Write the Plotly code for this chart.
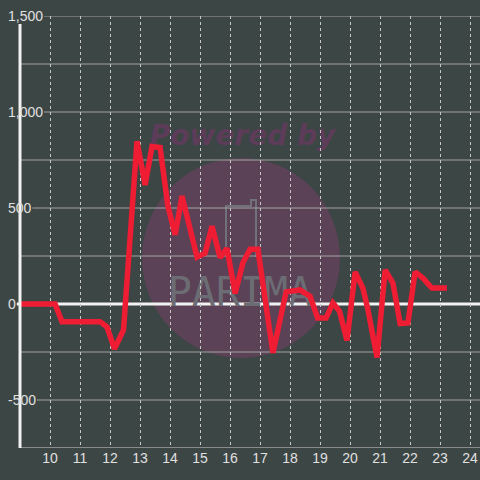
import plotly.graph_objects as go

# ---- data ----
hours = [9.0, 10.17, 10.4, 11.67, 11.9, 12.15, 12.45, 12.9, 13.17, 13.4, 13.67, 13.93,
         14.17, 14.4, 14.9, 15.17, 15.4, 15.67, 15.9, 16.17, 16.43, 16.67, 16.93,
         17.43, 17.87, 18.33, 18.67, 18.92, 19.2, 19.43, 19.65, 19.9, 20.17, 20.43,
         20.6, 20.9, 21.17, 21.43, 21.67, 21.93, 22.17, 22.43, 22.73, 23.23]
values = [0, 0, -92, -92, -120, -234, -135, 848, 620, 820, 815, 510,
          360, 562, 245, 265, 405, 242, 290, 55, 215, 285, 285,
          -255, 63, 73, 40, -73, -73, 5, -38, -190, 167, 83,
          -31, -278, 177, 109, -102, -99, 167, 135, 83, 83]

x_ticks = list(range(10, 25))
y_grid = [1500, 1250, 1000, 750, 500, 250, -250, -500]
y_labels = {1500: "1,500", 1000: "1,000", 500: "500", 0: "0", -500: "-500"}

BG = "#3c4645"
TXT = "#e0e0e0"
GRID = "#a3a3a3"
RED = "#ee1d33"

X0, X1 = 9.0, 24.333
Y0, Y1 = -750, 1500
W, H = 480, 480
ML, MR, MT, MB = 20, 0, 16, 32
PW = W - ML - MR
PH = H - MT - MB


def px_to_paper_x(px):
    return (px - ML) / PW


def px_to_paper_y(py):
    return (H - MB - py) / PH


def label_width(s, size=14):
    w = 0
    for c in s:
        if c.isdigit():
            w += 0.556 * size
        elif c == ",":
            w += 0.278 * size
        elif c == "-":
            w += 0.333 * size
    return w


fig = go.Figure()
fig.add_trace(go.Scatter(x=hours, y=values, mode="lines",
                         line=dict(color=RED, width=5.5),
                         hoverinfo="skip", showlegend=False))

shapes = []
# watermark circle
shapes.append(dict(type="circle", xref="paper", yref="paper", layer="below",
                   x0=px_to_paper_x(142), x1=px_to_paper_x(340),
                   y0=px_to_paper_y(358), y1=px_to_paper_y(158),
                   fillcolor="#5b4256", line=dict(width=0)))
# logo box
shapes.append(dict(type="path", xref="paper", yref="paper", layer="below",
                   path="M {a},{b} L {a},{c} L {d},{c} L {d},{e} L {f},{e} L {f},{b}".format(
                       a=px_to_paper_x(226), b=px_to_paper_y(257),
                       c=px_to_paper_y(206), d=px_to_paper_x(251),
                       e=px_to_paper_y(200), f=px_to_paper_x(256)),
                   line=dict(color="#70717a", width=2)))

# horizontal gridlines
for v in y_grid:
    if v in y_labels:
        start = px_to_paper_x(6 + label_width(y_labels[v]) + 3)
    else:
        start = 0
    shapes.append(dict(type="line", xref="paper", yref="y", x0=start, x1=1, y0=v, y1=v,
                       line=dict(color=GRID, width=1), layer="below"))
# bottom line
shapes.append(dict(type="line", xref="paper", yref="y", x0=0, x1=1, y0=Y0, y1=Y0,
                   line=dict(color=GRID, width=1.5), layer="below"))
# zero line
shapes.append(dict(type="line", xref="paper", yref="y",
                   x0=px_to_paper_x(6 + label_width("0") + 3), x1=1, y0=0, y1=0,
                   line=dict(color="#f2f2f2", width=3), layer="below"))
# y axis line
shapes.append(dict(type="line", xref="paper", yref="y", x0=0, x1=0, y0=Y0, y1=1458,
                   line=dict(color="#f2f2f2", width=3), layer="above"))

annotations = []
for v, t in y_labels.items():
    annotations.append(dict(xref="paper", yref="y", x=px_to_paper_x(6), y=v, text=t,
                            xanchor="left", yanchor="middle", showarrow=False,
                            font=dict(family="Liberation Sans, Arial", size=14, color=TXT)))

# watermark texts as shape labels (drawn below data)
shapes.append(dict(type="rect", xref="paper", yref="paper", layer="below",
                   x0=px_to_paper_x(140), x1=px_to_paper_x(345),
                   y0=px_to_paper_y(150), y1=px_to_paper_y(116),
                   line=dict(width=0), fillcolor="rgba(0,0,0,0)",
                   label=dict(text="Powered by", textposition="middle center",
                              font=dict(family="DejaVu Sans", size=28, color="#5c3c59",
                                        weight="bold", style="italic"))))
shapes.append(dict(type="rect", xref="paper", yref="paper", layer="below",
                   x0=px_to_paper_x(165), x1=px_to_paper_x(315),
                   y0=px_to_paper_y(310), y1=px_to_paper_y(268),
                   line=dict(width=0), fillcolor="rgba(0,0,0,0)",
                   label=dict(text="PARIMA", textposition="middle center",
                              font=dict(family="DejaVu Sans Mono", size=40, color="#6c6d74",
                                        weight="normal"))))

fig.update_layout(
    width=W, height=H,
    margin=dict(l=ML, r=MR, t=MT, b=MB, pad=0, autoexpand=False),
    paper_bgcolor=BG, plot_bgcolor=BG,
    shapes=shapes, annotations=annotations,
    xaxis=dict(range=[X0, X1], tickvals=x_ticks, ticktext=[str(t) for t in x_ticks],
               showgrid=True, gridcolor="#c8c8c8", gridwidth=1, griddash="3px,3px",
               zeroline=False, showline=False, ticks="", ticklen=0, automargin=False,
               tickfont=dict(family="Liberation Sans, Arial", size=14, color=TXT)),
    yaxis=dict(range=[Y0, Y1], showgrid=False, zeroline=False, showline=False,
               showticklabels=False, ticks="", automargin=False),
)

fig.write_html("out.html", config={"displayModeBar": False},
               post_script="document.body.style.margin='0';document.body.style.background='%s';" % BG)
